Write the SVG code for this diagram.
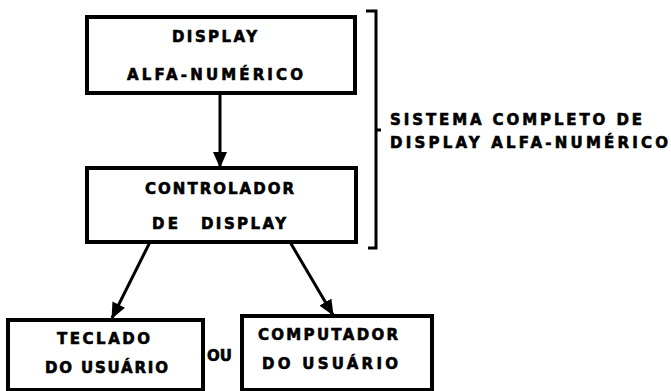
<svg xmlns="http://www.w3.org/2000/svg" width="671" height="391" viewBox="0 0 671 391">
<defs>
<style>
.box{fill:#fff;stroke:#000;stroke-width:4}
.t{font-family:"DejaVu Sans","Liberation Sans",sans-serif;font-weight:bold;font-size:15px;fill:#000;stroke:#000;stroke-width:0.6}
.c{fill:none;stroke:#000;stroke-width:3}
</style>
<marker id="ah" markerUnits="userSpaceOnUse" markerWidth="16" markerHeight="14" viewBox="0 0 16 14" refX="15" refY="7" orient="auto">
<path d="M0,0 L16,7 L0,14 Z" fill="#000"/>
</marker>
</defs>
<rect width="671" height="391" fill="#fff"/>
<g id="connectors">
<line class="c" x1="220" y1="93" x2="220" y2="167" marker-end="url(#ah)"/>
<line class="c" x1="150" y1="242" x2="112" y2="318" marker-end="url(#ah)"/>
<line class="c" x1="290" y1="242" x2="333" y2="315" marker-end="url(#ah)"/>
</g>
<g id="display">
<rect class="box" x="87" y="17" width="268" height="76"/>
<text class="t" x="172" y="42" textLength="85" lengthAdjust="spacing">DISPLAY</text>
<text class="t" x="127" y="80" textLength="176" lengthAdjust="spacing">ALFA-NUMÉRICO</text>
</g>
<g id="controlador">
<rect class="box" x="87" y="168" width="269" height="74"/>
<text class="t" x="145" y="194" textLength="149" lengthAdjust="spacing">CONTROLADOR</text>
<text class="t" x="152" y="229" textLength="26" lengthAdjust="spacing">DE</text>
<text class="t" x="201" y="229" textLength="85" lengthAdjust="spacing">DISPLAY</text>
</g>
<g id="bracket">
<path class="c" d="M366,11 H376 V248 H368 M376,130 H381"/>
<text class="t" x="390" y="125" textLength="252" lengthAdjust="spacing">SISTEMA COMPLETO DE</text>
<text class="t" x="390" y="148" textLength="278" lengthAdjust="spacing">DISPLAY ALFA-NUMÉRICO</text>
</g>
<g id="teclado">
<rect class="box" x="8" y="320" width="195" height="70"/>
<text class="t" x="57" y="344" textLength="93" lengthAdjust="spacing">TECLADO</text>
<text class="t" x="45" y="373" textLength="123" lengthAdjust="spacing">DO USUÁRIO</text>
</g>
<g id="ou">
<text class="t" x="207" y="361">OU</text>
</g>
<g id="computador">
<rect class="box" x="242" y="316" width="190" height="74"/>
<text class="t" x="258" y="340" textLength="140" lengthAdjust="spacing">COMPUTADOR</text>
<text class="t" x="262" y="369" textLength="136" lengthAdjust="spacing">DO USUÁRIO</text>
</g>
</svg>
